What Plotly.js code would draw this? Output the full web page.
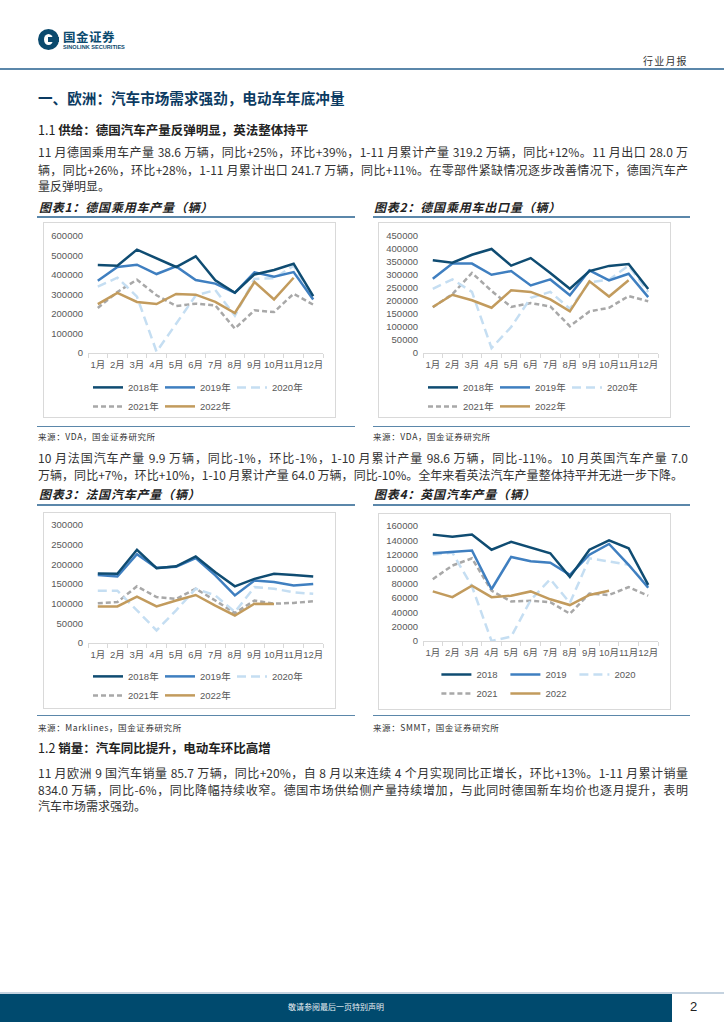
<!DOCTYPE html>
<html>
<head>
<meta charset="utf-8">
<script src="https://cdn.plot.ly/plotly-3.0.1.min.js"></script>
<style>
  html,body{margin:0;padding:0;background:#fff;}
  #page{position:relative;width:724px;height:1024px;overflow:hidden;font-family:"Noto Sans CJK SC","Noto Sans",sans-serif;color:#222;}
  .a{position:absolute;white-space:nowrap;}
  .ln{position:absolute;left:38px;width:650px;height:17px;line-height:17px;font-size:12px;color:#333;text-align:justify;text-align-last:justify;white-space:nowrap;}
  .ln.last{text-align-last:left;}
  .cap{position:absolute;font-size:12px;font-weight:bold;font-style:italic;color:#222;letter-spacing:0.8px;white-space:nowrap;}
  .capline{position:absolute;height:2px;background:#5b87aa;}
  .srcline{position:absolute;height:1px;background:#5b87aa;}
  .src{position:absolute;font-size:8.5px;color:#333;letter-spacing:0.6px;white-space:nowrap;}
  .box{position:absolute;border:1px solid #d9d9d9;box-sizing:border-box;}
  .plot{position:absolute;left:-1px;top:-1px;}
</style>
</head>
<body>
<div id="page">
  <!-- header -->
  <div class="a" style="left:38px;top:29px;width:21px;height:21px;border-radius:50%;background:#0b4a6e;"></div>
  <div class="a" style="left:44px;top:34px;width:9px;height:11px;border-radius:50%;background:#fff;"></div>
  <div class="a" style="left:48px;top:37px;width:11px;height:5px;background:#0b4a6e;"></div>
  <div class="a" style="left:63px;top:30px;font-size:12.5px;font-weight:bold;color:#0b4a6e;letter-spacing:0.5px;line-height:14px;">国金证券</div>
  <div class="a" style="left:63px;top:44px;font-size:5.6px;font-weight:bold;color:#0b4a6e;line-height:7px;font-family:'Liberation Sans',Arial,sans-serif;">SINOLINK SECURITIES</div>
  <div class="a" style="left:643px;top:54px;font-size:10px;color:#333;letter-spacing:1.2px;line-height:14px;">行业月报</div>
  <div class="a" style="left:0;top:68px;width:724px;height:2px;background:#5b87aa;"></div>

  <!-- section title -->
  <div class="a" style="left:38px;top:88px;font-size:14.6px;font-weight:bold;color:#0c3b62;line-height:20px;">一、欧洲：汽车市场需求强劲，电动车年底冲量</div>
  <div class="a" style="left:38px;top:121px;font-size:12.5px;color:#222;line-height:18px;">1.1 <b>供给：德国汽车产量反弹明显，英法整体持平</b></div>

  <div class="ln" style="top:143px;">11 月德国乘用车产量 38.6 万辆，同比+25%，环比+39%，1-11 月累计产量 319.2 万辆，同比+12%。11 月出口 28.0 万</div>
  <div class="ln" style="top:161px;">辆，同比+26%，环比+28%，1-11 月累计出口 241.7 万辆，同比+11%。在零部件紧缺情况逐步改善情况下，德国汽车产</div>
  <div class="ln last" style="top:177px;">量反弹明显。</div>

  <!-- chart captions row 1 -->
  <div class="cap" style="left:39px;top:199px;line-height:16px;">图表1：德国乘用车产量（辆）</div>
  <div class="cap" style="left:374px;top:199px;line-height:16px;">图表2：德国乘用车出口量（辆）</div>
  <div class="capline" style="left:37px;top:216px;width:318px;"></div>
  <div class="capline" style="left:373px;top:216px;width:317px;"></div>

  <div class="box" style="left:43px;top:222px;width:293px;height:196px;"><div id="c1" class="plot"></div></div>
  <div class="box" style="left:378px;top:222px;width:293px;height:196px;"><div id="c2" class="plot"></div></div>

  <div class="srcline" style="left:37px;top:426px;width:318px;"></div>
  <div class="srcline" style="left:373px;top:426px;width:317px;"></div>
  <div class="src" style="left:38px;top:430px;line-height:12px;">来源：VDA，国金证券研究所</div>
  <div class="src" style="left:373px;top:430px;line-height:12px;">来源：VDA，国金证券研究所</div>

  <div class="ln" style="top:449px;">10 月法国汽车产量 9.9 万辆，同比-1%，环比-1%，1-10 月累计产量 98.6 万辆，同比-11%。10 月英国汽车产量 7.0</div>
  <div class="ln" style="top:466px;width:645px;">万辆，同比+7%，环比+10%，1-10 月累计产量 64.0 万辆，同比-10%。全年来看英法汽车产量整体持平并无进一步下降。</div>

  <!-- chart captions row 2 -->
  <div class="cap" style="left:39px;top:486px;line-height:16px;">图表3：法国汽车产量（辆）</div>
  <div class="cap" style="left:374px;top:486px;line-height:16px;">图表4：英国汽车产量（辆）</div>
  <div class="capline" style="left:37px;top:504px;width:318px;"></div>
  <div class="capline" style="left:373px;top:504px;width:317px;"></div>

  <div class="box" style="left:43px;top:512px;width:293px;height:197px;"><div id="c3" class="plot"></div></div>
  <div class="box" style="left:378px;top:513px;width:293px;height:197px;"><div id="c4" class="plot"></div></div>

  <div class="srcline" style="left:37px;top:715px;width:318px;"></div>
  <div class="srcline" style="left:373px;top:715px;width:317px;"></div>
  <div class="src" style="left:38px;top:721px;line-height:12px;">来源：Marklines，国金证券研究所</div>
  <div class="src" style="left:373px;top:721px;line-height:12px;">来源：SMMT，国金证券研究所</div>

  <div class="a" style="left:38px;top:739px;font-size:12.5px;color:#222;line-height:18px;">1.2 <b>销量：汽车同比提升，电动车环比高增</b></div>
  <div class="ln" style="top:764px;">11 月欧洲 9 国汽车销量 85.7 万辆，同比+20%，自 8 月以来连续 4 个月实现同比正增长，环比+13%。1-11 月累计销量</div>
  <div class="ln" style="top:781px;">834.0 万辆，同比-6%，同比降幅持续收窄。德国市场供给侧产量持续增加，与此同时德国新车均价也逐月提升，表明</div>
  <div class="ln last" style="top:797px;">汽车市场需求强劲。</div>

  <!-- footer -->
  <div class="a" style="left:0;top:992px;width:724px;height:2px;background:#c5d3e0;"></div>
  <div class="a" style="left:0;top:994px;width:672px;height:28px;background:#004a6e;"></div>
  <div class="a" style="left:0;top:1002px;width:672px;text-align:center;font-size:8px;color:#e8eef3;line-height:10px;">敬请参阅最后一页特别声明</div>
  <div class="a" style="left:690px;top:998px;font-size:13px;color:#222;line-height:18px;font-family:'Liberation Sans',sans-serif;">2</div>
</div>

<script>
// ---- data ----
const months = ['1月','2月','3月','4月','5月','6月','7月','8月','9月','10月','11月','12月'];
const yearsCN = ['2018年','2019年','2020年','2021年','2022年'];
const yearsUK = ['2018','2019','2020','2021','2022'];

// Chart 1: Germany passenger car production
const de_prod_2018 = [451000,448000,530000,487000,441000,496000,373000,309000,403000,426000,458000,292000];
const de_prod_2019 = [371000,441000,453000,405000,444000,374000,356000,309000,414000,391000,415000,274000];
const de_prod_2020 = [340000,386000,289000,7000,150000,295000,323000,191000,380000,383000,448000,285000];
const de_prod_2021 = [231000,313000,376000,296000,241000,253000,244000,125000,219000,210000,304000,248000];
const de_prod_2022 = [251000,308000,262000,251000,303000,299000,262000,205000,364000,275000,386000];

// Chart 2: Germany passenger car exports
const de_exp_2018 = [357000,347000,378000,400000,336000,365000,308000,247000,315000,335000,342000,246000];
const de_exp_2019 = [286000,344000,344000,301000,315000,260000,283000,222000,318000,279000,305000,215000];
const de_exp_2020 = [247000,283000,235000,19000,100000,212000,235000,170000,272000,282000,336000,235000];
const de_exp_2021 = [176000,226000,308000,239000,177000,192000,179000,103000,160000,174000,219000,199000];
const de_exp_2022 = [177000,224000,203000,174000,241000,235000,206000,160000,276000,217000,280000];

// Chart 3: France car production
const fr_2018 = [177000,176000,237000,190000,195000,220000,180000,144000,163000,176000,173000,169000];
const fr_2019 = [173000,169000,226000,191000,194000,216000,172000,121000,159000,155000,146000,150000];
const fr_2020 = [133000,133000,83000,32000,83000,138000,121000,79000,142000,138000,129000,125000];
const fr_2021 = [101000,104000,144000,117000,112000,138000,108000,76000,108000,100000,102000,106000];
const fr_2022 = [93000,93000,118000,93000,108000,122000,95000,70000,100000,99000];

// Chart 4: UK car production
const uk_2018 = [148000,145000,148000,127000,138000,130000,122000,89000,127000,140000,129000,78000];
const uk_2019 = [122000,124000,126000,72000,117000,111000,109000,92000,120000,135000,106000,74000];
const uk_2020 = [120000,123000,76000,0,6000,57000,86000,53000,115000,111000,106000,76000];
const uk_2021 = [86000,105000,115000,70000,55000,56000,54000,38000,66000,64000,75000,63000];
const uk_2022 = [69000,61000,77000,61000,63000,69000,58000,50000,64000,70000];

// ---- styles ----
const lineStyles = [
  {color:'#0f4c72', width:2.5, dash:'solid'},
  {color:'#3f7fc0', width:2.5, dash:'solid'},
  {color:'#c5def2', width:2.5, dash:'9px,5px'},
  {color:'#a8a8a8', width:2.5, dash:'5px,3px'},
  {color:'#c29b5d', width:2.5, dash:'solid'}
];
const drawOrder = [3,2,4,1,0]; // draw 2018 on top

function makeChart(id, series, names, ymax, dtick, h, m, legX, legY, entryW){
  const traces = series.map((vals,i)=>({
    type:'scatter', mode:'lines', x: months.slice(0, vals.length), y: vals,
    name: names[i], line: lineStyles[i], legendrank: i+1, hoverinfo:'skip'
  }));
  const ordered = drawOrder.map(i=>traces[i]);
  const fam = 'Liberation Sans, Arial, "Noto Sans CJK SC", sans-serif';
  const layout = {
    width:293, height:h,
    margin:{l:m.l, r:m.r, t:m.t, b:m.b, autoexpand:false},
    paper_bgcolor:'rgba(0,0,0,0)', plot_bgcolor:'rgba(0,0,0,0)',
    font:{family:fam, size:9.5, color:'#595959'},
    showlegend:true,
    legend:{orientation:'h', x:legX, xanchor:'left', y:legY, yanchor:'top',
      entrywidth:entryW, entrywidthmode:'pixels', traceorder:'normal',
      font:{size:9.5, color:'#595959', family:fam},
      bgcolor:'rgba(0,0,0,0)', borderwidth:0},
    xaxis:{type:'category', categoryorder:'array', categoryarray:months, range:[-0.5,11.5],
      showgrid:false, zeroline:false, showline:true, linecolor:'#d9d9d9', linewidth:1,
      ticks:'outside', tickson:'boundaries', ticklen:4, tickcolor:'#d9d9d9', tickwidth:1,
      tickangle:0, automargin:false, ticklabelstandoff:3,
      tickfont:{size:9.5, color:'#595959', family:fam}, fixedrange:true},
    yaxis:{range:[0,ymax], dtick:dtick, tick0:0, tickformat:'d', showgrid:false, zeroline:false,
      showline:false, ticks:'', ticklabelstandoff:4, automargin:false,
      tickfont:{size:9.5, color:'#595959', family:'Liberation Sans, Arial, sans-serif'}, fixedrange:true}
  };
  Plotly.newPlot(id, ordered, layout, {staticPlot:true, displayModeBar:false});
}

makeChart('c1', [de_prod_2018,de_prod_2019,de_prod_2020,de_prod_2021,de_prod_2022], yearsCN,
  600000, 100000, 196, {l:45,r:13,t:14,b:65}, 0, -0.17, 27);
makeChart('c2', [de_exp_2018,de_exp_2019,de_exp_2020,de_exp_2021,de_exp_2022], yearsCN,
  450000, 50000, 196, {l:45,r:13,t:14,b:65}, 0, -0.17, 27);
makeChart('c3', [fr_2018,fr_2019,fr_2020,fr_2021,fr_2022], yearsCN,
  300000, 50000, 197, {l:45,r:13,t:13,b:66}, 0, -0.16, 27);
makeChart('c4', [uk_2018,uk_2019,uk_2020,uk_2021,uk_2022], yearsUK,
  160000, 20000, 197, {l:45,r:13,t:13,b:69}, 0.057, -0.165, 24);
</script>
</body>
</html>
